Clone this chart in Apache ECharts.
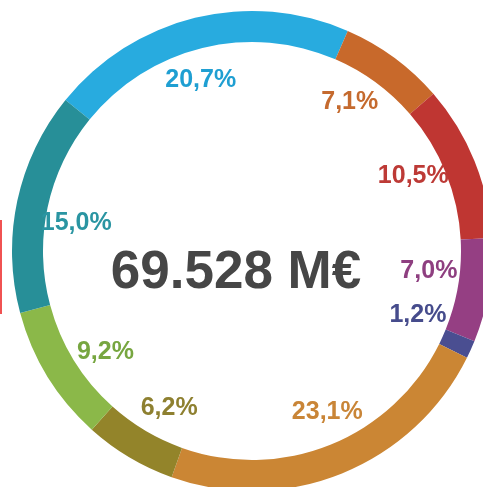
<!DOCTYPE html>
<html>
<head>
<meta charset="utf-8">
<script src="https://cdn.jsdelivr.net/npm/echarts@6/dist/echarts.min.js"></script>
<style>html,body{margin:0;padding:0;background:#fff;}#c{width:483px;height:487px;}</style>
</head>
<body>
<div id="c"></div>
<script>
var categories = ['A', 'B', 'C', 'D', 'E', 'F', 'G', 'H', 'I'];
var values = [20.7, 7.1, 10.5, 7.0, 1.2, 23.1, 6.2, 9.2, 15.0];
var colors = ['#28abdf', '#c8692b', '#bf3632', '#953f83', '#4a4e91', '#cb8634', '#93842a', '#8bb849', '#278f98'];
var labelColors = ['#1f9fd2', '#c56a2e', '#bd3a36', '#8e3f80', '#464c8c', '#c98537', '#8e8030', '#77a640', '#2a95a2'];
var totalLabel = '69.528 M€';

var chart = echarts.init(document.getElementById('c'), null, {renderer: 'canvas'});
var ringData = categories.map(function (c, i) {
  return {name: c, value: values[i], itemStyle: {color: colors[i]}};
});
var labelData = categories.map(function (c, i) {
  return {name: c, value: values[i], itemStyle: {color: 'rgba(0,0,0,0)'}, label: {color: labelColors[i]}};
});
function fmt(p) { return p.value.toFixed(1).replace('.', ',') + '%'; }

chart.setOption({
  animation: false,
  graphic: [
    {type: 'rect', shape: {x: 0, y: 220, width: 2, height: 94}, style: {fill: '#f05252'}},
    {type: 'text', x: 236, y: 273, style: {text: totalLabel, fontFamily: 'Liberation Sans, Arial, sans-serif', fontWeight: 'bold', fontSize: 53, fill: '#464646', textAlign: 'center', textVerticalAlign: 'middle'}}
  ],
  series: [
    {
      type: 'pie',
      center: [252, 251],
      radius: [209, 240],
      startAngle: 141,
      clockwise: true,
      avoidLabelOverlap: false,
      silent: true,
      label: {show: false},
      labelLine: {show: false},
      data: ringData
    },
    {
      type: 'pie',
      center: [252, 251],
      radius: [155, 195],
      startAngle: 144,
      clockwise: true,
      avoidLabelOverlap: false,
      silent: true,
      label: {show: true, position: 'inside', formatter: fmt, fontFamily: 'Liberation Sans, Arial, sans-serif', fontWeight: 'bold', fontSize: 25, textBorderWidth: 0},
      labelLine: {show: false},
      data: labelData
    }
  ]
});
</script>
</body>
</html>
